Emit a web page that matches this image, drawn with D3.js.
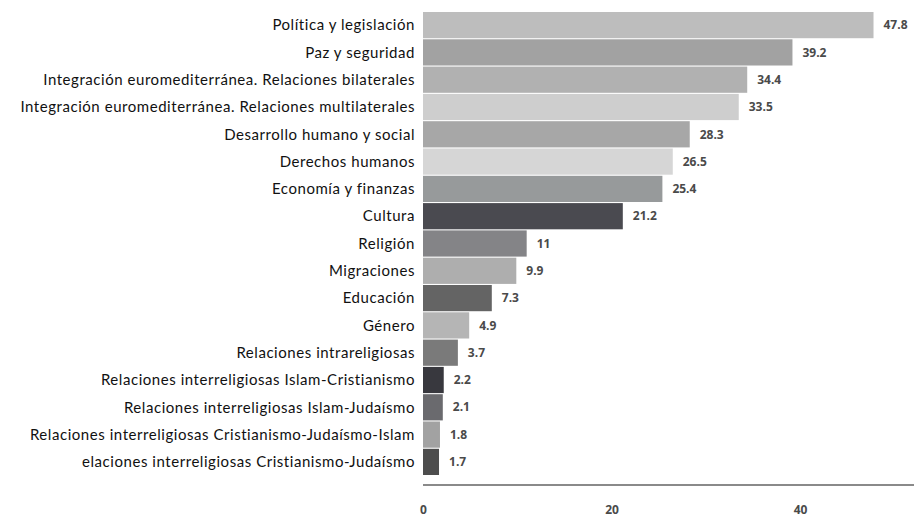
<!DOCTYPE html>
<html>
<head>
<meta charset="utf-8">
<script src="https://cdn.jsdelivr.net/npm/d3@7"></script>
<style>
  body { margin: 0; background: #fff; }
  svg { display: block; }
</style>
</head>
<body>
<svg id="chart"></svg>
<script>
const categories = [
  "Política y legislación",
  "Paz y seguridad",
  "Integración euromediterránea. Relaciones bilaterales",
  "Integración euromediterránea. Relaciones multilaterales",
  "Desarrollo humano y social",
  "Derechos humanos",
  "Economía y finanzas",
  "Cultura",
  "Religión",
  "Migraciones",
  "Educación",
  "Género",
  "Relaciones intrareligiosas",
  "Relaciones interreligiosas Islam-Cristianismo",
  "Relaciones interreligiosas Islam-Judaísmo",
  "Relaciones interreligiosas Cristianismo-Judaísmo-Islam",
  "elaciones interreligiosas Cristianismo-Judaísmo"
];
const values = [47.8, 39.2, 34.4, 33.5, 28.3, 26.5, 25.4, 21.2, 11, 9.9, 7.3, 4.9, 3.7, 2.2, 2.1, 1.8, 1.7];
const barColors = ["#bdbdbd", "#a2a2a2", "#b1b1b1", "#cecece", "#a7a7a7", "#d6d6d6", "#979a9b", "#4a4a50",
  "#848487", "#aeaeae", "#646464", "#b5b5b5", "#7a7a7a", "#38383e", "#6a6a6e", "#a2a2a2", "#4d4d4d"];
const xTicks = [0, 20, 40];

const width = 914, height = 518;
const margin = { top: 12, right: 0, bottom: 33, left: 423 };

const svg = d3.select("#chart")
  .attr("width", width)
  .attr("height", height);

const xScale = d3.scaleLinear()
  .domain([0, 20])
  .range([margin.left, margin.left + 188.5]);

const yScale = d3.scaleBand()
  .domain(categories)
  .range([margin.top, 475])
  .paddingInner(0.04);

// bars
svg.append("g")
  .selectAll("rect")
  .data(values)
  .join("rect")
  .attr("x", xScale(0))
  .attr("y", (d, i) => yScale(categories[i]))
  .attr("width", d => xScale(d) - xScale(0))
  .attr("height", yScale.bandwidth())
  .attr("fill", (d, i) => barColors[i]);

// category labels
svg.append("g")
  .selectAll("text")
  .data(categories)
  .join("text")
  .attr("x", margin.left - 8)
  .attr("y", d => yScale(d) + yScale.bandwidth() / 2)
  .attr("dy", "0.35em")
  .attr("text-anchor", "end")
  .attr("font-family", "Lato, 'Open Sans', sans-serif")
  .attr("font-size", 15)
  .attr("letter-spacing", 0.55)
  .attr("fill", "#111")
  .text(d => d);

// value labels
svg.append("g")
  .selectAll("text")
  .data(values)
  .join("text")
  .attr("x", d => xScale(d) + 10)
  .attr("y", (d, i) => yScale(categories[i]) + yScale.bandwidth() / 2)
  .attr("dy", "0.35em")
  .attr("font-family", "'Open Sans', sans-serif")
  .attr("font-size", 12)
  .attr("font-weight", "bold")
  .attr("fill", "#4a4a4a")
  .text(d => d);

// x axis
const xAxis = svg.append("g")
  .attr("transform", `translate(0, 485)`)
  .call(d3.axisBottom(xScale).tickValues(xTicks).tickSize(0).tickPadding(20).tickSizeOuter(0));

xAxis.select(".domain")
  .attr("d", `M${xScale(0)},0H${width}`)
  .attr("stroke", "#8a8a8a")
  .attr("stroke-width", 2);

xAxis.selectAll(".tick text")
  .attr("font-family", "'Open Sans', sans-serif")
  .attr("font-size", 12)
  .attr("font-weight", "bold")
  .attr("fill", "#4a4a4a");
</script>
</body>
</html>
